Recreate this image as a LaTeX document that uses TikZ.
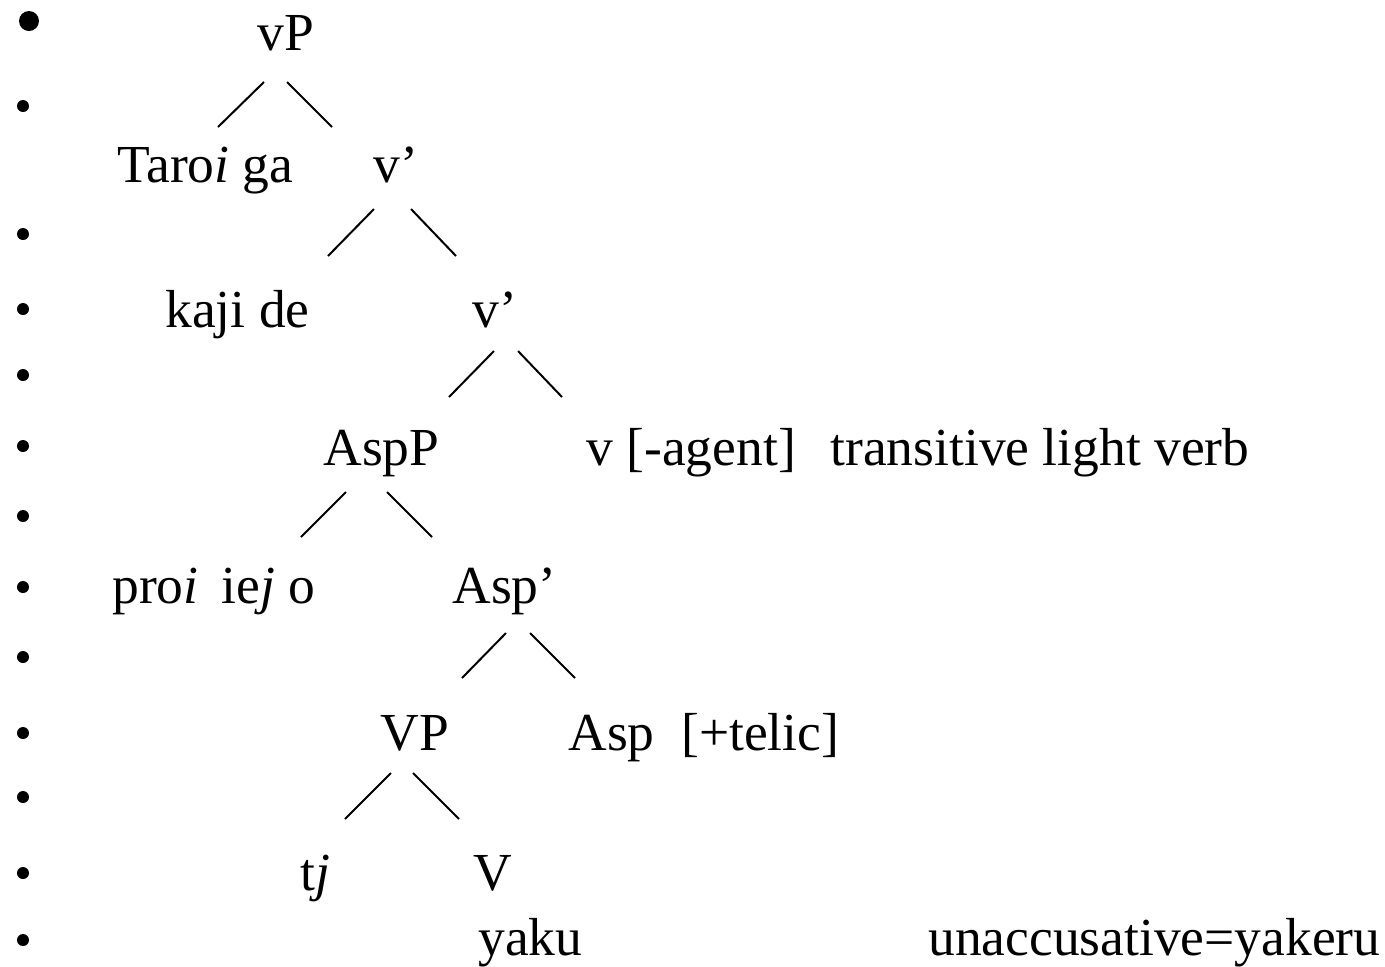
\documentclass[tikz,border=0pt]{standalone}
\usepackage{fontspec}
\setmainfont{Liberation Serif}
\begin{document}
\begin{tikzpicture}[x=0.5pt,y=-0.5pt,
  lbl/.style={anchor=base west,inner sep=0pt,font=\fontsize{26.75pt}{30pt}\selectfont},
  branch/.style={line width=1pt},
  bul/.style={fill=black}]
\useasboundingbox (0,0) rectangle (1385,966);
% bullets
\fill[bul] (29,21) circle (10);
\foreach \yy in {106,234,309,375,446,516,587,657,733,797,873,940}
  \fill[bul] (23,\yy) circle (6);
% labels
\node[lbl] (vP) at (257,50) {vP};
\node[lbl] (taro) at (117,182) {Taro\textit{i} ga};
\node[lbl] (v1) at (373,182) {v’};
\node[lbl] (kaji) at (165,327) {kaji de};
\node[lbl] (v2) at (472,327) {v’};
\node[lbl] (AspP) at (323,465) {AspP};
\node[lbl] (vag) at (586,465) {v [-agent]};
\node[lbl] (tlv) at (830,465) {transitive light verb};
\node[lbl] (pro) at (112,603) {pro\textit{i}};
\node[lbl] (iej) at (221,603) {ie\textit{j} o};
\node[lbl] (Aspb) at (452,603) {Asp’};
\node[lbl] (VP) at (380,750) {VP};
\node[lbl] (Asp) at (568,750) {Asp\ \ [+telic]};
\node[lbl] (tj) at (300,890) {t\textit{j}};
\node[lbl] (V) at (473,890) {V};
\node[lbl] (yaku) at (478,955) {yaku};
\node[lbl] (unacc) at (928,955) {unaccusative=yakeru};
% branch end points
\coordinate (a1) at (264,82);  \coordinate (a2) at (218,127);
\coordinate (b1) at (287,82);  \coordinate (b2) at (332,127);
\coordinate (c1) at (374,209); \coordinate (c2) at (328,256);
\coordinate (d1) at (411,209); \coordinate (d2) at (456,256);
\coordinate (e1) at (494,351); \coordinate (e2) at (449,397);
\coordinate (f1) at (518,351); \coordinate (f2) at (562,397);
\coordinate (g1) at (346,492); \coordinate (g2) at (301,537);
\coordinate (h1) at (387,492); \coordinate (h2) at (432,537);
\coordinate (i1) at (506,633); \coordinate (i2) at (462,678);
\coordinate (j1) at (530,633); \coordinate (j2) at (575,678);
\coordinate (k1) at (391,773); \coordinate (k2) at (345,819);
\coordinate (l1) at (413,773); \coordinate (l2) at (459,819);
\foreach \p in {a,b,c,d,e,f,g,h,i,j,k,l}
  \draw[branch] (\p1) -- (\p2);
\end{tikzpicture}
\end{document}
